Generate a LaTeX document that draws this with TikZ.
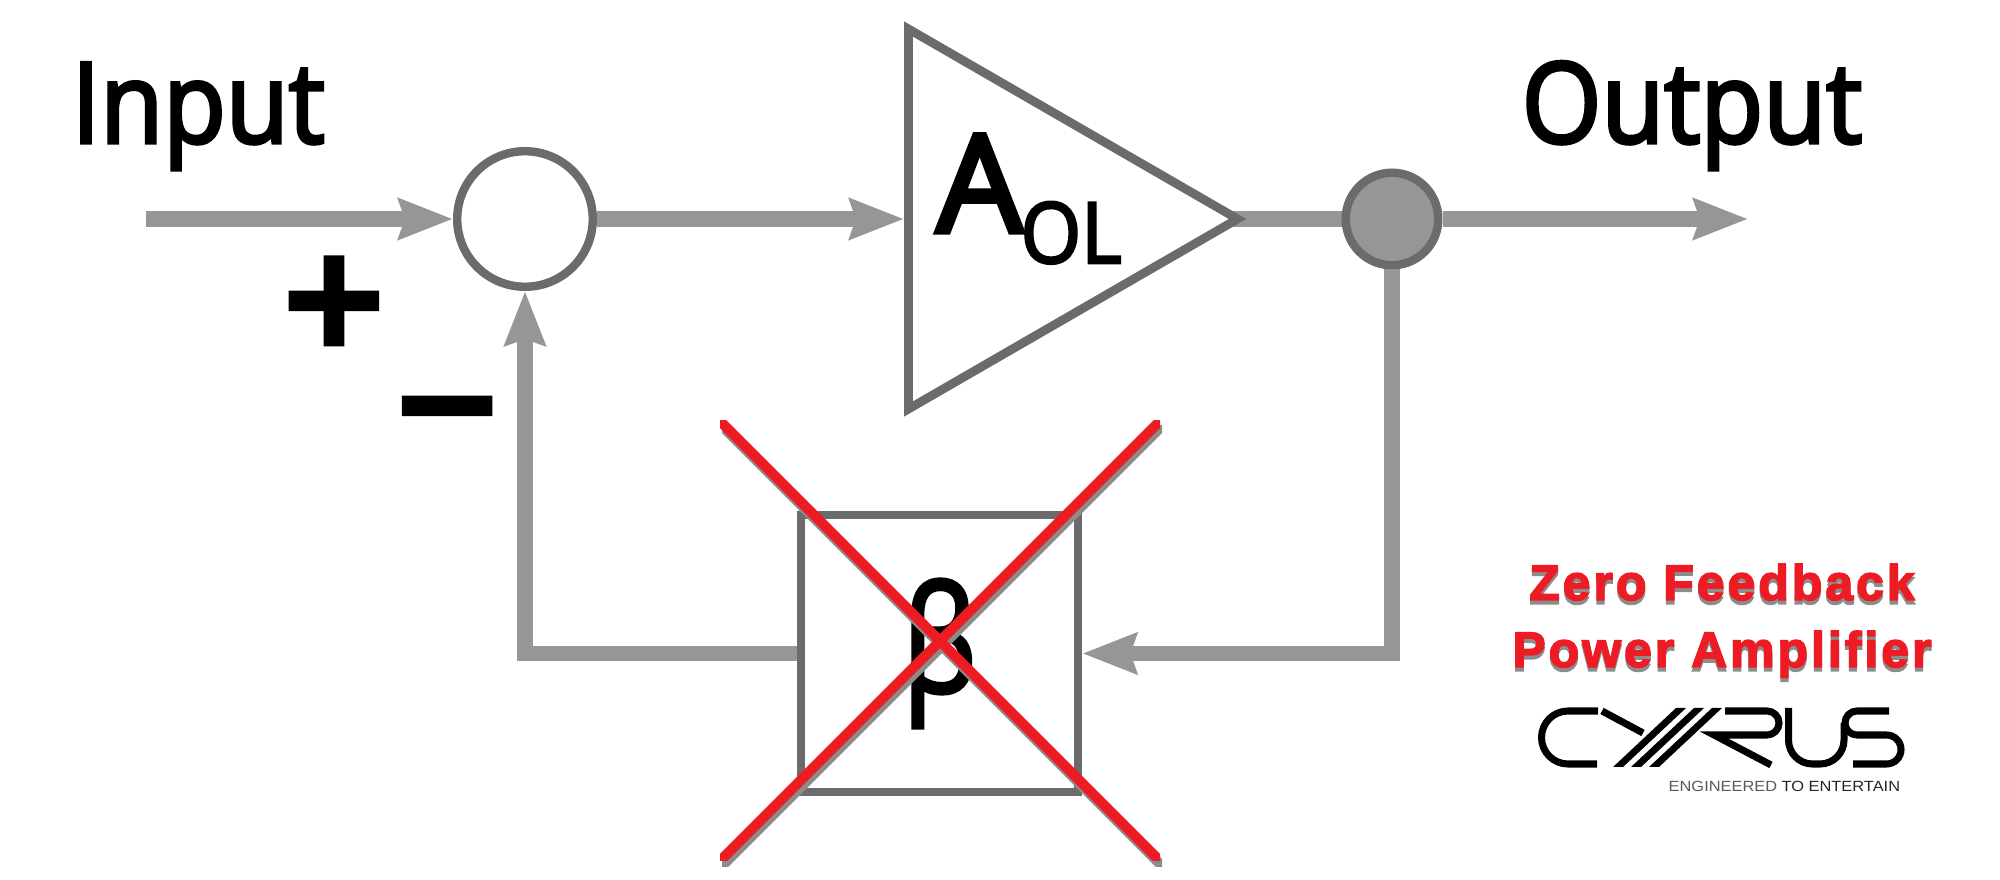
\documentclass[tikz,border=0pt]{standalone}
\usepackage{fontspec}
\usetikzlibrary{
    arrows.meta,
    backgrounds,
    shapes.geometric
}
\newfontfamily\labelfont[FakeStretch=0.91,FakeBold=3]{Open Sans}
\newfontfamily\gainfont[FakeBold=4]{Open Sans}
\newfontfamily\subfont[FakeStretch=0.92,FakeBold=3]{Open Sans}
\newfontfamily\betafont[FakeStretch=0.78,FakeBold=2.5]{Open Sans}
\newfontfamily\signfont[FakeBold=5]{Liberation Sans}
\newfontfamily\zerofont[LetterSpace=6,FakeBold=3]{Liberation Sans Bold}
\newfontfamily\tagfont[FakeStretch=1.11]{Liberation Sans}
\definecolor{signalgray}{HTML}{969696}
\definecolor{edgegray}{HTML}{6B6B6B}
\definecolor{redmark}{HTML}{ED1C24}
\definecolor{shadowgray}{HTML}{8C8C8C}
\tikzset{
    signal/.style={draw=signalgray, line width=4.5pt},
    flow/.style={signal, -{Stealth[length=.54cm, width=.4cm, inset=.06cm]}},
    junction/.style={circle, draw=edgegray, line width=2.4pt, inner sep=0pt},
    labeltext/.style={inner sep=0pt, anchor=base west, font=\labelfont\fontsize{32}{32}\selectfont},
    signtext/.style={inner sep=0pt, anchor=base, font=\signfont\fontsize{48}{48}\selectfont},
    zerotext/.style={inner sep=0pt, anchor=base, font=\zerofont\fontsize{14.2}{14.2}\selectfont}
}

\begin{document}
\begin{tikzpicture}[x=0.01cm, y=-0.01cm]
    \useasboundingbox (0,0) rectangle (2000,880);

    % labels
    \node[labeltext] (input) at (71,143) {Input};
    \node[labeltext] (output) at (1521,143) {Output};
    \node[signtext] (plus) at (334,357) {+};
    \node[signtext] (minus) at (447,462) {−};

    % blocks
    \node[junction, minimum size=1.355cm] (summer) at (525,219) {};
    \node[junction, fill=signalgray, minimum size=.925cm] (tap) at (1392,219) {};
    \node[isosceles triangle, isosceles triangle apex angle=60, draw=edgegray, line width=2.5pt,
        inner sep=0pt, minimum height=3.29cm, anchor=lower side] (amp) at (904,219) {};
    \node[inner sep=0pt, anchor=base west, font=\gainfont\fontsize{38.5}{38.5}\selectfont] (gain) at (936,232) {A};
    \node[inner sep=0pt, anchor=base west, font=\subfont\fontsize{24}{24}\selectfont] (gainsub) at (1020,263) {OL};
    \node[draw=edgegray, line width=2.4pt, minimum width=2.77cm, minimum height=2.77cm, inner sep=0pt,
        font=\betafont\fontsize{42}{42}\selectfont] (beta) at (939.5,653.5) {β};

    % connectors
    \coordinate (inStart) at (146,219);
    \coordinate (outEnd) at (1748,219);
    \draw[flow] (inStart) -- (summer.west);
    \draw[flow] (summer.east) -- (amp.lower side);
    \begin{scope}[on background layer]
        \draw[signal, shorten <=-.15cm] (amp.apex) -- (tap.west);
    \end{scope}
    \draw[flow] (tap.east) -- (outEnd);
    \draw[flow] (tap.south) |- (beta.east);
    \draw[flow] (beta.west) -| (summer.south);

    % crossing out, shadow first
    \foreach \crosscol/\crossdx/\crossdy in {shadowgray/.02cm/-.05cm, redmark/0cm/0cm} {
        \begin{scope}[xshift=\crossdx, yshift=\crossdy]
            \clip (720,421) rectangle (1160,861);
            \draw[\crosscol, line width=2.9pt] (700,401) -- (1180,881);
            \draw[\crosscol, line width=2.9pt] (700,881) -- (1180,401);
        \end{scope}
    }

    % zero feedback note
    \foreach \notecol/\notedy in {shadowgray/4, redmark/0} {
        \node[zerotext, text=\notecol] (zero\notecol) at (1722,600+\notedy) {Zero Feedback};
        \node[zerotext, text=\notecol] (power\notecol) at (1722,667+\notedy) {Power Amplifier};
    }

    % logo
    \begin{scope}[line width=2pt]
        \draw (1598,711) -- (1568,711) arc[start angle=270, end angle=90, radius=26.5] -- (1597,764);
        \draw (1602,711) -- (1643,733);
        \foreach \band in {0,18,36} {
            \fill ({1676+\band},708) -- ({1686+\band},708) -- ({1623+\band},767) -- ({1613+\band},767) -- cycle;
        }
        \draw (1725,711) -- (1767,711) arc[start angle=-90, end angle=90, radius=12] -- (1714,735) -- (1771,765);
        \draw (1788.5,708) -- (1788.5,740) arc[start angle=180, end angle=90, radius=24] -- (1820,764)
            arc[start angle=90, end angle=0, radius=24] -- (1844,723);
        \draw (1889,711) -- (1857,711) arc[start angle=270, end angle=90, radius=12] -- (1886.5,735)
            arc[start angle=-90, end angle=90, radius=14.5] -- (1853,764);
    \end{scope}
    \node[inner sep=0pt, anchor=base west, font=\tagfont\fontsize{4.2}{4.2}\selectfont] (tagline) at (1668,792)
        {\textcolor{black!65}{ENGINEERED} \textcolor{black!85}{TO ENTERTAIN}};
\end{tikzpicture}
\end{document}
